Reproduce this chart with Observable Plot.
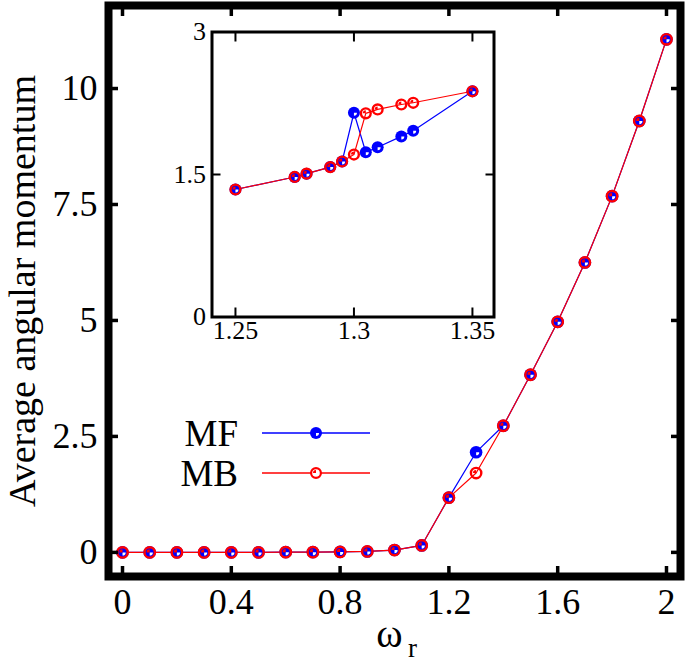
<!DOCTYPE html>
<html><head><meta charset="utf-8">
<script src="https://cdn.jsdelivr.net/npm/d3@7"></script>
<script src="https://cdn.jsdelivr.net/npm/@observablehq/plot@0.6"></script>
<style>
html,body{margin:0;padding:0;background:#fff;}
#wrap{position:relative;width:685px;height:664px;overflow:hidden;background:#fff;}
#wrap svg{position:absolute;}
</style></head><body><div id="wrap"></div>
<script>
// ---- data ----
const omegaMain = [0,0.1,0.2,0.3,0.4,0.5,0.6,0.7,0.8,0.9,1.0,1.1,1.2,1.3,1.4,1.5,1.6,1.7,1.8,1.9,2.0];
const mfMain = [0,0,0,0,0,0,0.005,0.005,0.01,0.02,0.05,0.15,1.18,2.16,2.73,3.83,4.97,6.25,7.68,9.3,11.06];
const mbMain = [0,0,0,0,0,0,0.005,0.005,0.01,0.02,0.05,0.15,1.18,1.71,2.73,3.83,4.97,6.25,7.68,9.3,11.06];
const xTicksMain = [0,0.4,0.8,1.2,1.6,2];
const yTicksMain = [0,2.5,5,7.5,10];
const omegaInset = [1.25,1.275,1.28,1.29,1.295,1.3,1.305,1.31,1.32,1.325,1.35];
const mfInset = [1.342,1.474,1.509,1.578,1.637,2.150,1.734,1.786,1.901,1.960,2.376];
const mbInset = [1.342,1.474,1.509,1.578,1.637,1.710,2.144,2.185,2.237,2.255,2.376];
const xTicksInset = [1.25,1.3,1.35];
const yTicksInset = [0,1.5,3];
const seriesNames = ["MF","MB"];
const seriesColors = ["#0000ff","#ff0000"];
const yLabel = "Average angular momentum";

// ---- helpers ----
const FONT = "'Liberation Serif', 'Times New Roman', serif";
const fmt = d => String(d);
const quarterLR = {draw(ctx, size){const r=Math.sqrt(size/Math.PI); ctx.moveTo(0,0); ctx.lineTo(r,0); ctx.arc(0,0,r,0,Math.PI/2); ctx.closePath();}};
const quarterUL = {draw(ctx, size){const r=Math.sqrt(size/Math.PI); ctx.moveTo(0,0); ctx.lineTo(-r,0); ctx.arc(0,0,r,Math.PI,1.5*Math.PI); ctx.closePath();}};
const tbl = (xs, ys) => xs.map((x,i)=>({x, y: ys[i]}));
function seriesMarks(xs, mf, mb, r){
  const a = tbl(xs, mf), b = tbl(xs, mb);
  const [blue, red] = seriesColors;
  return [
    Plot.line(a,{x:"x",y:"y",stroke:blue,strokeWidth:1.2}),
    Plot.line(b,{x:"x",y:"y",stroke:red,strokeWidth:1.2}),
    Plot.dot(a,{x:"x",y:"y",r,fill:blue}),
    Plot.dot(a,{x:"x",y:"y",r:r*0.5,symbol:quarterLR,fill:"white"}),
    Plot.dot(b,{x:"x",y:"y",r:r-1.1,stroke:red,strokeWidth:2.4,fill:"none"}),
    Plot.dot(b,{x:"x",y:"y",r:r*0.5,symbol:quarterUL,fill:red})
  ];
}
function tickAxes(xt, yt, len, sw){
  const o = {tickSize:len, tickFormat:()=>"", label:null, strokeWidth:sw};
  return [
    Plot.axisX(xt,{...o, anchor:"bottom", dy:-len}),
    Plot.axisX(xt,{...o, anchor:"top", dy:len}),
    Plot.axisY(yt,{...o, anchor:"left", dx:len}),
    Plot.axisY(yt,{...o, anchor:"right", dx:-len})
  ];
}

const wrap = document.getElementById("wrap");

// ---- main chart ----
const main = Plot.plot({
  width:685, height:664, marginLeft:108, marginRight:5, marginTop:5, marginBottom:88,
  style:{fontFamily:FONT, fontSize:"36px", color:"black", background:"transparent"},
  x:{domain:[-0.0515,2.0515]},
  y:{domain:[-0.52,11.79]},
  marks:[
    ...seriesMarks(omegaMain, mfMain, mbMain, 6.3),
    Plot.axisX(xTicksMain,{anchor:"bottom", tickSize:0, tickPadding:12, label:null, fontSize:36, tickFormat:fmt}),
    Plot.axisY(yTicksMain,{anchor:"left", tickSize:0, tickPadding:11, label:null, fontSize:36, tickFormat:fmt}),
    ...tickAxes(xTicksMain, yTicksMain, 10, 3.5),
    Plot.frame({stroke:"black", strokeWidth:8}),
    Plot.text([yLabel],{frameAnchor:"left", textAnchor:"middle", rotate:-90, dx:-86, fontSize:38}),
    Plot.text(["ω"],{frameAnchor:"bottom", dx:-5, dy:58, fontSize:40, lineAnchor:"middle"}),
    Plot.text(["r"],{frameAnchor:"bottom", dx:18, dy:72, fontSize:27, lineAnchor:"middle"})
  ]
});
main.style.left="0px"; main.style.top="0px";
wrap.appendChild(main);

// ---- inset ----
const inset = Plot.plot({
  width:360, height:355, marginLeft:61.5, marginRight:16.5, marginTop:31.5, marginBottom:38.5,
  style:{fontFamily:FONT, fontSize:"26px", color:"black", background:"white"},
  x:{domain:[1.2401,1.3591]},
  y:{domain:[0,3]},
  marks:[
    ...seriesMarks(omegaInset, mfInset, mbInset, 6),
    Plot.axisX(xTicksInset,{anchor:"bottom", tickSize:0, tickPadding:4, label:null, fontSize:26, tickFormat:fmt}),
    Plot.axisY(yTicksInset,{anchor:"left", tickSize:0, tickPadding:6, label:null, fontSize:26, tickFormat:fmt}),
    ...tickAxes(xTicksInset, yTicksInset, 9, 2),
    Plot.frame({stroke:"black", strokeWidth:3})
  ]
});
inset.style.left="150px"; inset.style.top="0px"; inset.style.background="transparent";
wrap.appendChild(inset);

// ---- legend ----
const leg = d3.create("svg").attr("width",250).attr("height",90)
  .style("left","150px").style("top","405px").style("font-family",FONT);
seriesNames.forEach((name,i)=>{
  const y = 28 + i*40;
  const g = leg.append("g");
  g.append("text").attr("x",88).attr("y",y+13).attr("text-anchor","end").attr("font-size",37).text(name);
  g.append("line").attr("x1",112).attr("x2",220).attr("y1",y).attr("y2",y).attr("stroke",seriesColors[i]).attr("stroke-width",1.6);
  if(i===0){
    g.append("circle").attr("cx",166).attr("cy",y).attr("r",6).attr("fill",seriesColors[0]);
    g.append("path").attr("transform",`translate(166,${y})`).attr("d",d3.symbol(quarterLR,Math.PI*9)()).attr("fill","white");
  } else {
    g.append("circle").attr("cx",166).attr("cy",y).attr("r",4.9).attr("fill","white").attr("stroke",seriesColors[1]).attr("stroke-width",2.2);
    g.append("path").attr("transform",`translate(166,${y})`).attr("d",d3.symbol(quarterUL,Math.PI*9)()).attr("fill",seriesColors[1]);
  }
});
wrap.appendChild(leg.node());
</script></body></html>
